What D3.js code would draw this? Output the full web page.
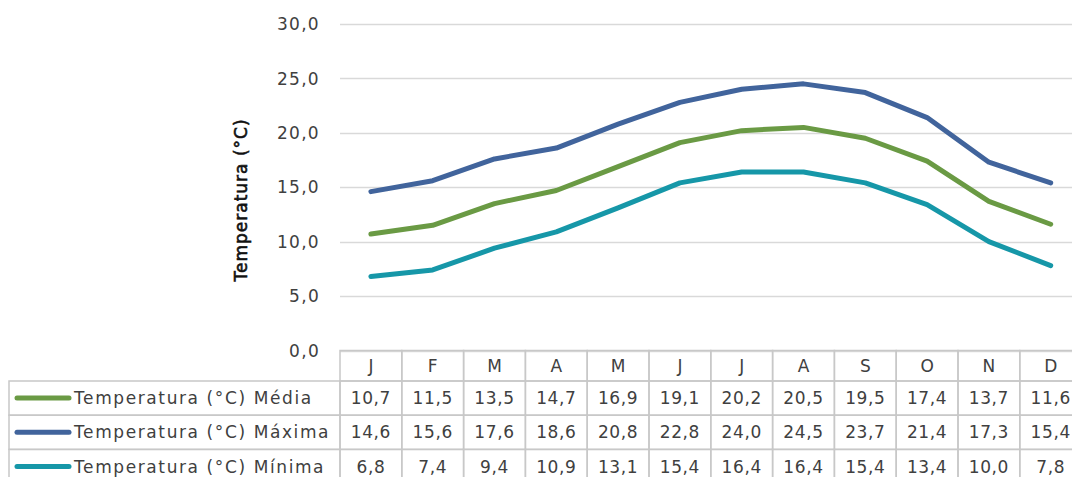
<!DOCTYPE html>
<html><head><meta charset="utf-8">
<script src="https://cdn.jsdelivr.net/npm/d3@7"></script>
<style>
html,body{margin:0;padding:0;background:#fff;overflow:hidden;}
text{font-family:"DejaVu Sans",sans-serif;}
</style></head>
<body><svg id="c" width="1072" height="477"></svg>
<script>
const months = ["J","F","M","A","M","J","J","A","S","O","N","D"];
const media  = [10.7,11.5,13.5,14.7,16.9,19.1,20.2,20.5,19.5,17.4,13.7,11.6];
const maxima = [14.6,15.6,17.6,18.6,20.8,22.8,24.0,24.5,23.7,21.4,17.3,15.4];
const minima = [6.8,7.4,9.4,10.9,13.1,15.4,16.4,16.4,15.4,13.4,10.0,7.8];
const seriesNames = ["Temperatura (°C) Média","Temperatura (°C) Máxima","Temperatura (°C) Mínima"];
const seriesColors = ["#6A9A44","#41649C","#1697A8"];
const yTicks = [0,5,10,15,20,25,30];

const series = [media, maxima, minima].map((v,i)=>({name:seriesNames[i], color:seriesColors[i], values:v}));
const fmt = v => d3.format(".1f")(v).replace(".", ",");

const svg = d3.select("#c");
const left = 340, colW = 61.8;
const x = d3.scaleBand().domain(d3.range(12)).range([left, left + colW*12]).paddingInner(0).paddingOuter(0);
const y = d3.scaleLinear().domain([0,30]).range([350.5, 24]);
const fs = 17, ls = "1.3px";

// gridlines
svg.append("g").selectAll("line").data(yTicks).join("line")
  .attr("x1", left).attr("x2", 1072)
  .attr("y1", d=>Math.round(y(d))+0.5).attr("y2", d=>Math.round(y(d))+0.5)
  .attr("stroke", "#d9d9d9").attr("stroke-width", 1.3);

// y tick labels
svg.append("g").selectAll("text").data(yTicks).join("text")
  .attr("x", 320).attr("y", d=>y(d)).attr("dy","0.36em")
  .attr("text-anchor","end").attr("font-size",fs).attr("letter-spacing",ls).attr("fill","#404040")
  .text(fmt);

// y title
svg.append("text").attr("transform","translate(247,200) rotate(-90)")
  .attr("text-anchor","middle").attr("font-size",fs).attr("letter-spacing","1px")
  .attr("fill","#111").attr("stroke","#111").attr("stroke-width",0.6)
  .text("Temperatura (°C)");

// lines
const line = d3.line().x((d,i)=>x(i)+x.bandwidth()/2).y(d=>y(d));
svg.append("g").selectAll("path").data(series).join("path")
  .attr("d", d=>line(d.values)).attr("fill","none")
  .attr("stroke", d=>d.color).attr("stroke-width",5)
  .attr("stroke-linecap","round").attr("stroke-linejoin","round");

// table
const gridC = "#c8c8c8";
const hTop = 350.5, hBot = 381, rowH = 34.2, tLeft = 9;
const tg = svg.append("g");
tg.selectAll("rect.h").data(d3.range(12)).join("rect")
  .attr("x", i=>x(i)).attr("y", hTop).attr("width", colW).attr("height", hBot-hTop)
  .attr("fill","none").attr("stroke",gridC).attr("stroke-width",1.5);
tg.selectAll("text.h").data(months).join("text")
  .attr("x",(d,i)=>x(i)+colW/2).attr("y",(hTop+hBot)/2).attr("dy","0.36em")
  .attr("text-anchor","middle").attr("font-size",fs).attr("fill","#404040").text(d=>d);
series.forEach((s,r)=>{
  const ry = hBot + r*rowH;
  tg.append("rect").attr("x",tLeft).attr("y",ry).attr("width",left-tLeft).attr("height",rowH)
    .attr("fill","none").attr("stroke",gridC).attr("stroke-width",1.5);
  tg.append("line").attr("x1",17).attr("x2",69).attr("y1",ry+rowH/2).attr("y2",ry+rowH/2)
    .attr("stroke",s.color).attr("stroke-width",5).attr("stroke-linecap","round");
  tg.append("text").attr("x",74).attr("y",ry+rowH/2).attr("dy","0.36em")
    .attr("font-size",fs).attr("letter-spacing","1.6px").attr("fill","#404040").text(s.name);
  s.values.forEach((v,i)=>{
    tg.append("rect").attr("x",x(i)).attr("y",ry).attr("width",colW).attr("height",rowH)
      .attr("fill","none").attr("stroke",gridC).attr("stroke-width",1.5);
    tg.append("text").attr("x",x(i)+colW/2).attr("y",ry+rowH/2).attr("dy","0.36em")
      .attr("text-anchor","middle").attr("font-size",fs).attr("letter-spacing","0.6px").attr("fill","#404040").text(fmt(v));
  });
});
</script></body></html>
